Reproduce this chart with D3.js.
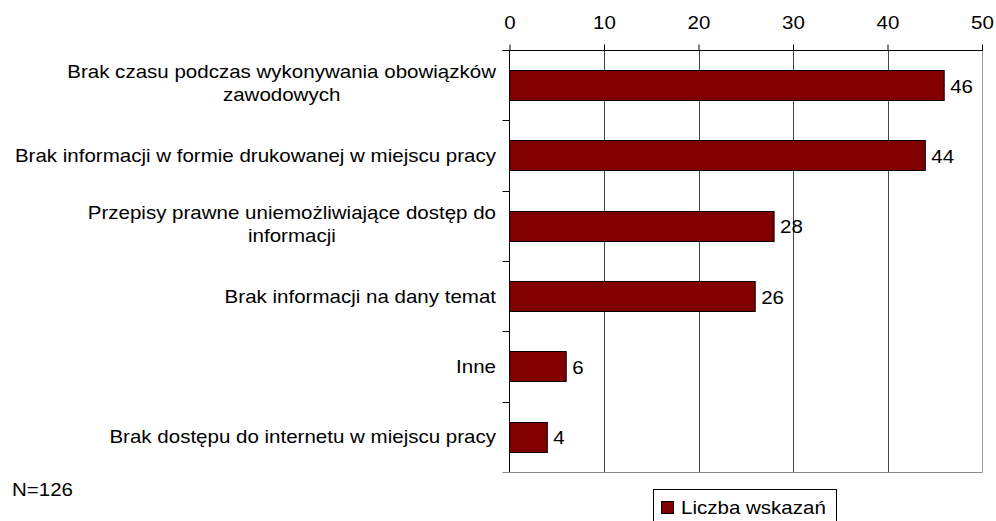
<!DOCTYPE html>
<html><head><meta charset="utf-8">
<script src="https://cdn.jsdelivr.net/npm/d3@7"></script>
<style>
html,body{margin:0;padding:0;background:#fff;}
svg{display:block;}
text{font-family:"Liberation Sans",Arial,sans-serif;fill:#000;}
</style></head>
<body>
<svg id="c" width="996" height="521"></svg>
<script>
const categories = [
  ["Brak czasu podczas wykonywania obowiązków", "zawodowych"],
  ["Brak informacji w formie drukowanej w miejscu pracy"],
  ["Przepisy prawne uniemożliwiające dostęp do", "informacji"],
  ["Brak informacji na dany temat"],
  ["Inne"],
  ["Brak dostępu do internetu w miejscu pracy"]
];
const values = [46, 44, 28, 26, 6, 4];
const tickValues = [0, 10, 20, 30, 40, 50];
const seriesName = "Liczba wskazań";
const note = "N=126";

(function(){
const svg = d3.select("#c");
const FS = 18, SX = 1.14;
const pL = 509.5, pR = 982, pT = 50, pB = 472;
const x = d3.scaleLinear().domain([0, 50]).range([pL, pR]);
const ids = categories.map((d, i) => i);
const y = d3.scaleBand().domain(ids).range([pT, pB]).paddingInner(0.57).paddingOuter(0.285);
const step = y.step();
const cyOf = i => y(i) + y.bandwidth() / 2;

function stext(parent, tx, ty, str, anchor) {
  const g = parent.append("g").attr("transform", `translate(${tx},${ty}) scale(${SX},1)`);
  const t = g.append("text").attr("x", 0).attr("y", 0).attr("font-size", FS)
    .attr("text-anchor", anchor || "start").text(str);
  return t;
}

// grid lines
svg.append("g").selectAll("line").data(tickValues.slice(1)).join("line")
  .attr("x1", d => Math.round(x(d)) + 0.5).attr("x2", d => Math.round(x(d)) + 0.5)
  .attr("y1", pT).attr("y2", pB)
  .attr("stroke", d => d === 50 ? "#999" : "#444").attr("stroke-width", 1);
// bottom line
svg.append("line").attr("x1", pL).attr("x2", Math.round(pR) + 0.5)
  .attr("y1", pB + 0.5).attr("y2", pB + 0.5).attr("stroke", "#888");

// bars
svg.append("g").selectAll("rect").data(values).join("rect")
  .attr("x", x(0)).attr("y", (d, i) => Math.round(y(i)) + 0.5)
  .attr("width", d => x(d) - x(0)).attr("height", Math.round(y.bandwidth()))
  .attr("fill", "#800000").attr("stroke", "#000").attr("stroke-width", 1);

// value labels
const vg = svg.append("g");
values.forEach((v, i) => stext(vg, x(v) + 6, cyOf(i) + 7.5, String(v), "start"));

// top axis
const ax = svg.append("g").attr("transform", `translate(0,${pT + 0.5})`)
  .call(d3.axisTop(x).tickValues(tickValues).tickSize(6).tickPadding(16).tickSizeOuter(0));
ax.select(".domain").attr("stroke", "#000").attr("d", `M${pL - 7},0H${Math.round(pR) + 0.5}`);
ax.selectAll(".tick line").attr("stroke", "#000");
ax.selectAll(".tick text").attr("font-size", FS).attr("font-family", "Liberation Sans, Arial, sans-serif")
  .attr("fill", "#000").attr("transform", `scale(${SX},1)`);

// left axis line and category ticks
svg.append("line").attr("x1", pL).attr("x2", pL).attr("y1", pT).attr("y2", pB).attr("stroke", "#000");
svg.append("g").selectAll("line").data(d3.range(categories.length + 1)).join("line")
  .attr("x1", pL - 7).attr("x2", pL)
  .attr("y1", d => Math.round(pT + d * step) + 0.5).attr("y2", d => Math.round(pT + d * step) + 0.5)
  .attr("stroke", d => d === categories.length ? "#888" : "#000");

// category labels
const lh = 23;
const catG = svg.append("g");
categories.forEach((lines, i) => {
  const c = cyOf(i);
  if (lines.length === 1) {
    stext(catG, 496, c + 6.5, lines[0], "end");
  } else {
    const t0 = stext(catG, 496, c - 7, lines[0], "end");
    const w0 = t0.node().getComputedTextLength();
    stext(catG, 496 - SX * w0 / 2, c - 7 + lh, lines[1], "middle");
  }
});

// note
stext(svg, 12, 495.5, note, "start");

// legend
const lg = svg.append("g");
lg.append("rect").attr("x", 653.5).attr("y", 489.5).attr("width", 183).attr("height", 40)
  .attr("fill", "#fff").attr("stroke", "#000");
lg.append("rect").attr("x", 661.5).attr("y", 501.5).attr("width", 12).attr("height", 12)
  .attr("fill", "#800000").attr("stroke", "#000");
stext(lg, 681, 514, seriesName, "start");
})();
</script>
</body></html>
